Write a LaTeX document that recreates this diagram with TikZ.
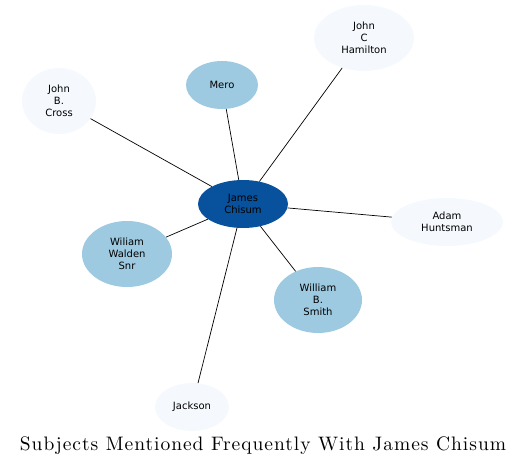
\documentclass[tikz,border=0pt]{standalone}
\usepackage{fontspec}
\newfontfamily\nodefont{DejaVu Sans}
\newfontfamily\titlefont{lmroman10-regular}[Extension=.otf,LetterSpace=5]
\usetikzlibrary{shapes.geometric}
\definecolor{dark}{HTML}{08519C}
\definecolor{mid}{HTML}{9ECAE1}
\definecolor{pale}{HTML}{F5F9FE}
\tikzset{
  ent/.style={ellipse, inner sep=0pt, font=\nodefont\fontsize{10}{12}\selectfont, align=center},
  link/.style={draw=black, line width=0.7pt}
}
\begin{document}
\begin{tikzpicture}[x=1pt,y=-1pt]
\useasboundingbox (0,0) rectangle (525,468);
\node[ent, fill=dark, minimum width=90pt, minimum height=48pt] (james) at (243,204) {James\\Chisum};
\node[ent, fill=mid, minimum width=72pt, minimum height=48pt] (mero) at (222,85) {Mero};
\node[ent, fill=pale, minimum width=100pt, minimum height=66pt] (hamilton) at (364,38) {John\\C\\Hamilton};
\node[ent, fill=pale, minimum width=74pt, minimum height=66pt] (cross) at (59,101) {John\\B.\\Cross};
\node[ent, fill=pale, minimum width=112pt, minimum height=48pt] (adam) at (447,222) {Adam\\Huntsman};
\node[ent, fill=mid, minimum width=90pt, minimum height=66pt] (walden) at (127,254) {Wiliam\\Walden\\Snr};
\node[ent, fill=mid, minimum width=88pt, minimum height=66pt] (smith) at (318,300) {William\\B.\\Smith};
\node[ent, fill=pale, minimum width=74pt, minimum height=48pt] (jackson) at (192,407) {Jackson};
\foreach \n in {mero,hamilton,cross,adam,walden,smith,jackson}
  \draw[link] (james) -- (\n);
\node[font=\titlefont\fontsize{19.5}{22}\selectfont] (title) at (263,446) {Subjects Mentioned Frequently With James Chisum};
\end{tikzpicture}
\end{document}
